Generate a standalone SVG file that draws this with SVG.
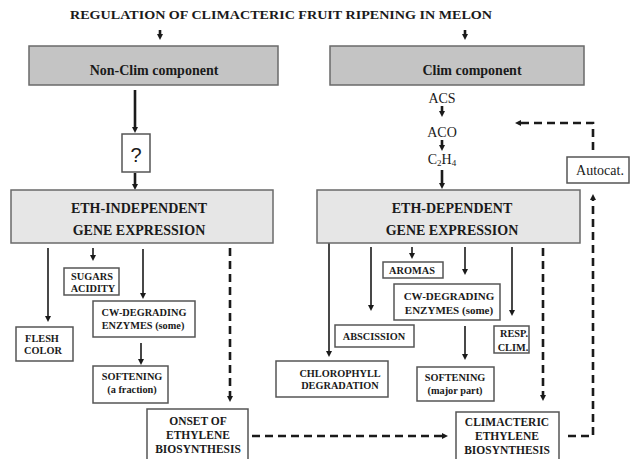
<svg xmlns="http://www.w3.org/2000/svg" width="632" height="459" viewBox="0 0 632 459">
<style>
text{font-family:"Liberation Serif","Times New Roman",serif;fill:#1a1a1a;text-anchor:middle}
.b{font-weight:bold}
.title{font-size:12.5px;font-weight:bold}
.hdr{font-size:14px;font-weight:bold}
.sm{font-size:10.3px;font-weight:bold}
.md{font-size:11px;font-weight:bold}
.lg{font-size:11.5px;font-weight:bold}
.nm{font-size:14px}
.dark{fill:#c4c4c4;stroke:#6a6a6a;stroke-width:1.5}
.light{fill:#e6e6e6;stroke:#6a6a6a;stroke-width:1.5}
.box{fill:#ffffff;stroke:#555555;stroke-width:1.5}
.s{fill:none;stroke:#1a1a1a;stroke-width:1.6}
.t{fill:none;stroke:#1a1a1a;stroke-width:2.6}
.d{fill:none;stroke:#1a1a1a;stroke-width:2.6;stroke-dasharray:8 5}
</style>
<defs>
<marker id="ah" viewBox="0 0 6 6" markerWidth="6" markerHeight="6" refX="2" refY="3" orient="auto" markerUnits="userSpaceOnUse">
<path d="M0,0 L6,3 L0,6 z" fill="#1a1a1a"/>
</marker>
</defs>
<rect width="632" height="459" fill="#ffffff"/>
<text id="title" class="title" x="281" y="19" textLength="422" lengthAdjust="spacingAndGlyphs">REGULATION OF CLIMACTERIC FRUIT RIPENING IN MELON</text>

<g id="connectors">
<line class="t" x1="160" y1="30" x2="160" y2="36" marker-end="url(#ah)"/>
<line class="t" x1="465" y1="30" x2="465" y2="36" marker-end="url(#ah)"/>
<line class="t" x1="135" y1="90" x2="135" y2="129" marker-end="url(#ah)"/>
<line class="t" x1="135" y1="173" x2="135" y2="186" marker-end="url(#ah)"/>
<line class="t" x1="442" y1="106" x2="442" y2="113" marker-end="url(#ah)"/>
<line class="t" x1="442" y1="140" x2="442" y2="147" marker-end="url(#ah)"/>
<line class="t" x1="442" y1="170" x2="442" y2="185" marker-end="url(#ah)"/>
<line class="s" x1="48" y1="248" x2="48" y2="318" marker-end="url(#ah)"/>
<line class="s" x1="93" y1="248" x2="93" y2="257" marker-end="url(#ah)"/>
<line class="s" x1="143" y1="249" x2="143" y2="295" marker-end="url(#ah)"/>
<line class="s" x1="141" y1="343" x2="141" y2="361" marker-end="url(#ah)"/>
<line class="s" x1="329" y1="243" x2="329" y2="353" marker-end="url(#ah)"/>
<line class="s" x1="371" y1="247" x2="371" y2="307" marker-end="url(#ah)"/>
<line class="s" x1="412" y1="247" x2="412" y2="255" marker-end="url(#ah)"/>
<line class="s" x1="465" y1="247" x2="465" y2="271" marker-end="url(#ah)"/>
<line class="s" x1="465" y1="326" x2="465" y2="356" marker-end="url(#ah)"/>
<line class="s" x1="512" y1="247" x2="512" y2="312" marker-end="url(#ah)"/>
<line class="d" x1="230" y1="248" x2="230" y2="398" marker-end="url(#ah)"/>
<line class="d" x1="543" y1="248" x2="543" y2="397" marker-end="url(#ah)"/>
<line class="d" x1="252" y1="436" x2="444" y2="436" marker-end="url(#ah)"/>
<path class="d" d="M568,436 H593 V198" marker-end="url(#ah)"/>
<path class="d" d="M593,150 V123 H519" marker-end="url(#ah)"/>
</g>

<g id="nonclim">
<rect class="dark" x="29" y="46" width="249" height="39"/>
<text class="hdr" x="154" y="75">Non-Clim component</text>
</g>
<g id="clim">
<rect class="dark" x="330" y="46" width="254" height="39"/>
<text class="hdr" x="472" y="75">Clim component</text>
</g>
<g id="acs"><text class="nm" x="442" y="103">ACS</text></g>
<g id="aco"><text class="nm" x="442" y="137">ACO</text></g>
<g id="c2h4"><text class="nm" x="442" y="164">C<tspan font-size="9" dy="2">2</tspan><tspan dy="-2">H</tspan><tspan font-size="9" dy="2">4</tspan></text></g>
<g id="question">
<rect class="box" x="122" y="134" width="28" height="38"/>
<text x="136" y="162" style="font-family:'Liberation Sans',Arial,sans-serif;font-size:20px">?</text>
</g>
<g id="autocat">
<rect class="box" x="567" y="157" width="62" height="26"/>
<text class="nm" x="600" y="175">Autocat.</text>
</g>
<g id="ethindep">
<rect class="light" x="11" y="190" width="262" height="53"/>
<text class="hdr" x="139" y="213">ETH-INDEPENDENT</text>
<text class="hdr" x="139" y="235">GENE EXPRESSION</text>
</g>
<g id="ethdep">
<rect class="light" x="317" y="190" width="263" height="53"/>
<text class="hdr" x="452" y="213">ETH-DEPENDENT</text>
<text class="hdr" x="452" y="235">GENE EXPRESSION</text>
</g>
<g id="sugars">
<rect class="box" x="64" y="268" width="55" height="27"/>
<text class="sm" x="92" y="280">SUGARS</text>
<text class="sm" x="93" y="292">ACIDITY</text>
</g>
<g id="flesh">
<rect class="box" x="16" y="327" width="57" height="34"/>
<text class="sm" x="42" y="342">FLESH</text>
<text class="sm" x="43" y="354">COLOR</text>
</g>
<g id="cwleft">
<rect class="box" x="93" y="301" width="102" height="36"/>
<text class="sm" x="144" y="316">CW-DEGRADING</text>
<text class="sm" x="143" y="329">ENZYMES (some)</text>
</g>
<g id="softleft">
<rect class="box" x="93" y="366" width="75" height="37"/>
<text class="sm" x="132" y="380">SOFTENING</text>
<text class="sm" x="132" y="393">(a fraction)</text>
</g>
<g id="onset">
<rect class="box" x="147" y="409" width="101" height="55"/>
<text class="lg" x="198" y="425">ONSET OF</text>
<text class="lg" x="198" y="439">ETHYLENE</text>
<text class="lg" x="198" y="453">BIOSYNTHESIS</text>
</g>
<g id="aromas">
<rect class="box" x="383" y="262" width="60" height="16"/>
<text class="sm" x="412" y="274">AROMAS</text>
</g>
<g id="cwright">
<rect class="box" x="394" y="284" width="106" height="36"/>
<text class="md" x="449" y="300">CW-DEGRADING</text>
<text class="md" x="449" y="314">ENZYMES (some)</text>
</g>
<g id="abscission">
<rect class="box" x="335" y="325" width="79" height="22"/>
<text class="sm" x="374" y="340">ABSCISSION</text>
</g>
<g id="chloro">
<rect class="box" x="276" y="361" width="112" height="36"/>
<text class="sm" x="340" y="377">CHLOROPHYLL</text>
<text class="sm" x="340" y="389">DEGRADATION</text>
</g>
<g id="softright">
<rect class="box" x="417" y="367" width="77" height="34"/>
<text class="sm" x="455" y="381">SOFTENING</text>
<text class="sm" x="455" y="394">(major part)</text>
</g>
<g id="resp">
<rect class="box" x="494" y="326" width="35" height="27"/>
<text class="sm" x="514" y="337">RESP.</text>
<text class="sm" x="513" y="351">CLIM.</text>
</g>
<g id="climeth">
<rect class="box" x="456" y="412" width="103" height="52"/>
<text class="lg" x="507" y="426">CLIMACTERIC</text>
<text class="lg" x="507" y="440">ETHYLENE</text>
<text class="lg" x="507" y="454">BIOSYNTHESIS</text>
</g>
</svg>
